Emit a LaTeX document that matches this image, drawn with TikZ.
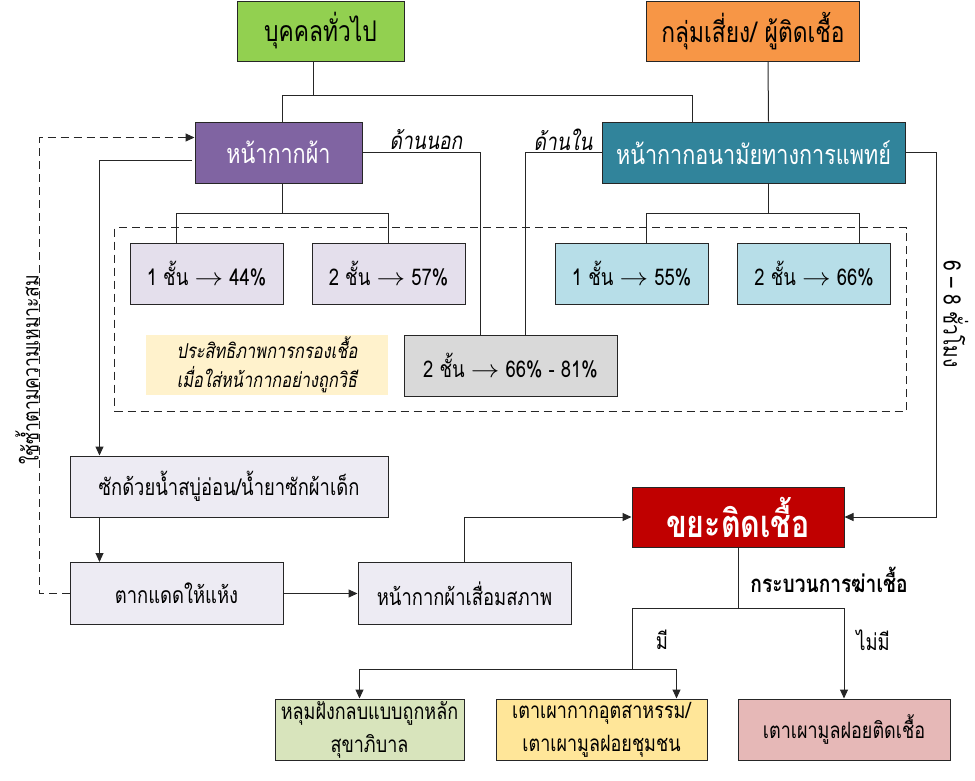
\documentclass[tikz,border=0pt]{standalone}
\usepackage{fontspec}
\setmainfont[Script=Thai, FakeStretch=0.8]{Loma}
\usepackage{xcolor}
\usetikzlibrary{arrows.meta, positioning, calc, fit}

\definecolor{genGreen}{HTML}{92D050}
\definecolor{riskOrange}{HTML}{F79646}
\definecolor{clothPurple}{HTML}{8064A2}
\definecolor{medTeal}{HTML}{31849B}
\definecolor{clothLight}{HTML}{E4DFEC}
\definecolor{medLight}{HTML}{B7DEE8}
\definecolor{bothGray}{HTML}{D9D9D9}
\definecolor{noteYellow}{HTML}{FFF2CC}
\definecolor{stepLight}{HTML}{EDEBF3}
\definecolor{wasteRed}{HTML}{C00000}
\definecolor{landGreen}{HTML}{D8E4BC}
\definecolor{incYellow}{HTML}{FFE699}
\definecolor{infPink}{HTML}{E6B8B7}
\definecolor{edge}{HTML}{262626}

\newcommand{\tto}{\ \scalebox{1.15}[1]{$\rightarrow$}\ }

\begin{document}
\begin{tikzpicture}[
    x=1pt, y=-1pt,
    wh/.style 2 args={minimum width=#1pt, minimum height=#2pt},
    box/.style={draw=edge, line width=1pt, rectangle, align=center, inner sep=0pt},
    topbox/.style={box, font=\fontsize{28.5}{34}\selectfont},
    maskbox/.style={box, text=white, wh={167}{61}, font=\fontsize{27}{32}\selectfont},
    ratebox/.style={box, wh={153}{61}, font=\fontsize{23}{28}\selectfont},
    stepbox/.style={box, fill=stepLight, font=\fontsize{23}{28}\selectfont},
    wastebox/.style={box, fill=wasteRed, text=white, font=\bfseries\fontsize{38}{44}\selectfont},
    endbox/.style={box, font=\fontsize{22.5}{33}\selectfont},
    lbl/.style={inner sep=0pt, font=\fontsize{23}{28}\selectfont},
    frame/.style={draw=edge, line width=1pt, dash pattern=on 8pt off 5pt, inner sep=15pt},
    line/.style={draw=edge, line width=1pt},
    arrow/.style={line, -{Triangle[length=9pt,width=8pt]}}
]
\useasboundingbox (0,0) rectangle (975,780);

% who wears what
\node[topbox, fill=genGreen, wh={167}{60}] (gen) at (320.5,31) {บุคคลทั่วไป};
\node[topbox, fill=riskOrange, wh={213}{60}] (risk) at (753,31) {กลุ่มเสี่ยง/ ผู้ติดเชื้อ};
\node[maskbox, fill=clothPurple] (cloth) at (278.5,152.5) {หน้ากากผ้า};
\node[maskbox, fill=medTeal, wh={303}{61}] (med) at (753.5,152.5) {หน้ากากอนามัยทางการแพทย์};

% filtering efficiency
\node[ratebox, fill=clothLight] (c1) at (206.5,273.5) {1 ชั้น\tto 44\%};
\node[ratebox, fill=clothLight] (c2) at (388.5,273.5) {2 ชั้น\tto 57\%};
\node[ratebox, fill=medLight] (m1) at (631.5,273.5) {1 ชั้น\tto 55\%};
\node[ratebox, fill=medLight] (m2) at (814,273.5) {2 ชั้น\tto 66\%};
\node[ratebox, fill=bothGray, wh={213}{61}] (both) at (510.5,365.5) {2 ชั้น\tto 66\% - 81\%};
\node[fill=noteYellow, wh={242}{60}, align=center, inner sep=0pt,
      font=\itshape\fontsize{20.5}{29}\selectfont] (note) at (267,365)
      {ประสิทธิภาพการกรองเชื้อ\\เมื่อใส่หน้ากากอย่างถูกวิธี};
\node[frame, fit=(c1) (m2) (both)] (group) {};

% reuse cycle
\node[stepbox, wh={318}{61}] (wash) at (229,486.5) {ซักด้วยน้ำสบู่อ่อน/น้ำยาซักผ้าเด็ก};
\node[stepbox, wh={213}{62}] (dry) at (176.5,593.5) {ตากแดดให้แห้ง};
\node[stepbox, wh={213}{62}] (worn) at (464.5,593.5) {หน้ากากผ้าเสื่อมสภาพ};

% disposal
\node[wastebox, wh={212}{60}] (waste) at (738,517) {ขยะติดเชื้อ};
\node[endbox, fill=landGreen, wh={189}{61}] (landfill) at (369.5,729.5) {หลุมฝังกลบแบบถูกหลัก\\สุขาภิบาล};
\node[endbox, fill=incYellow, wh={211}{61}] (incin) at (601.5,729.5) {เตาเผากากอุตสาหรรม/\\เตาเผามูลฝอยชุมชน};
\node[endbox, fill=infPink, wh={212}{61}] (burner) at (844,729.5) {เตาเผามูลฝอยติดเชื้อ};

% labels
\node[lbl, font=\itshape\fontsize{24}{28}\selectfont] (outer) at (426,140) {ด้านนอก};
\node[lbl, font=\itshape\fontsize{24}{28}\selectfont] (inner) at (563,140) {ด้านใน};
\node[lbl, font=\bfseries\fontsize{24}{28}\selectfont] (kill) at (829,580) {กระบวนการฆ่าเชื้อ};
\node[lbl] (yes) at (662,640) {มี};
\node[lbl] (no) at (873,640) {ไม่มี};
\node[lbl, font=\fontsize{22}{26}\selectfont, rotate=90] (reuse) at (27,370) {ใช้ซ้ำตามความเหมาะสม};
\node[lbl, font=\fontsize{24}{28}\selectfont, rotate=-90] (hours) at (956,314) {6 -- 8 ชั่วโมง};

% connectors
\draw[line] ($(gen.south)+(-7,0)$) -- ++(0,34) coordinate (gsplit);
\draw[line] ($(cloth.north)+(4,0)$) |- (gsplit) -| ($(med.north)+(-61,0)$);
\draw[line] ($(risk.south)+(15,0)$) -- ($(med.north)+(15,0)$);
\draw[line] ($(cloth.south)+(4,0)$) -- ++(0,30) coordinate (csplit);
\draw[line] ($(c1.north)+(-30,0)$) |- (csplit) -| (c2.north);
\draw[line] ($(med.south)+(15,0)$) -- ++(0,30) coordinate (msplit);
\draw[line] ($(m1.north)+(15,0)$) |- (msplit) -| ($(m2.north)+(45,0)$);
\draw[line] (cloth.east) -| ($(both.north)+(-30,0)$);
\draw[line] (med.west) -| ($(both.north)+(15,0)$);

\draw[arrow] ($(cloth.west)+(-3,7.5)$) -| ($(wash.north west)+(30,0)$);
\draw[arrow] ($(wash.south west)+(30,0)$) -- ($(dry.north west)+(30,0)$);
\draw[arrow, dash pattern=on 8pt off 5pt] (dry.west) -- ++(-30,0) |- ($(cloth.west)+(0,-15)$);
\draw[arrow] (dry) -- (worn);
\draw[arrow] (worn.north) |- (waste.west);
\draw[arrow] (med.east) -- ++(31,0) |- (waste.east);

\draw[line] (waste.south) -- ++(0,61) coordinate (wsplit);
\draw[arrow] (wsplit) -| (burner.north);
\coordinate (ysplit) at ($(wsplit)+(-106,61)$);
\draw[line] (wsplit) -| (ysplit);
\draw[arrow] (ysplit) -| ($(landfill.north)+(-10,0)$);
\draw[arrow] (ysplit) -| ($(incin.north)+(75,0)$);
\end{tikzpicture}
\end{document}
